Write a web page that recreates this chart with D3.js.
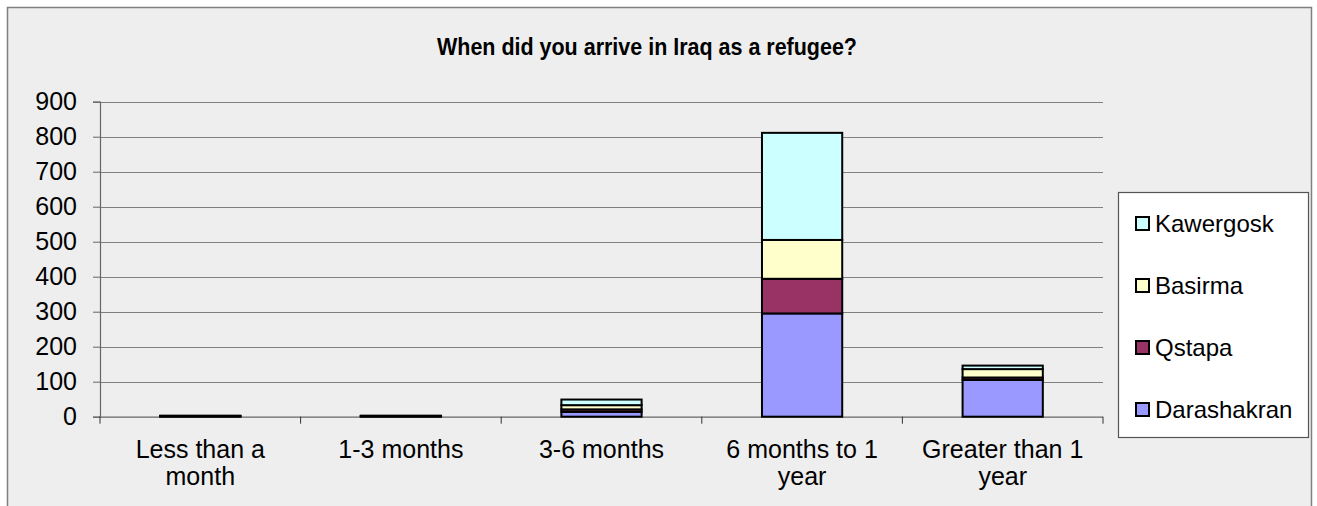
<!DOCTYPE html>
<html><head><meta charset="utf-8">
<script src="https://cdn.jsdelivr.net/npm/d3@7"></script>
<style>
html,body{margin:0;padding:0;background:#fff;}
text{font-family:"Liberation Sans",Arial,sans-serif;fill:#000;}
</style></head>
<body>
<svg id="chart" width="1317" height="506"></svg>
<script>
const title = "When did you arrive in Iraq as a refugee?";
const categories = ["Less than a month","1-3 months","3-6 months","6 months to 1 year","Greater than 1 year"];
const seriesNames = ["Darashakran","Qstapa","Basirma","Kawergosk"];
const darashakran = [1, 1, 14, 295, 105];
const qstapa      = [0, 0, 7, 99, 7];
const basirma     = [1, 1, 12, 111, 24];
const kawergosk   = [1, 1, 16, 306, 10];
const yTicks = [0,100,200,300,400,500,600,700,800,900];
const colors = ["#9999FF","#993366","#FFFFCC","#CCFFFF"];

const seriesValues = [darashakran, qstapa, basirma, kawergosk];
const rows = categories.map((c,i)=>{
  const r = {cat:c};
  seriesNames.forEach((s,j)=> r[s] = seriesValues[j][i]);
  return r;
});

const svg = d3.select("#chart");
svg.append("rect").attr("x",7.5).attr("y",7.5).attr("width",1304).attr("height",520)
  .attr("fill","#EEEEEE").attr("stroke","#808080").attr("stroke-width",1.5);

const pLeft=100, pRight=1103, pTop=101.7, pBottom=416.7;
const x = d3.scaleBand().domain(categories).range([pLeft,pRight]).paddingInner(0.6).paddingOuter(0.3);
const y = d3.scaleLinear().domain([0,900]).range([pBottom,pTop]);

svg.append("g").selectAll("line").data(yTicks.filter(d=>d>0)).join("line")
  .attr("x1",pLeft).attr("x2",pRight).attr("y1",d=>Math.round(y(d))+0.5).attr("y2",d=>Math.round(y(d))+0.5)
  .attr("stroke","#808080").attr("stroke-width",1.2);

const yAxis = svg.append("g").attr("transform",`translate(${pLeft},0)`)
  .call(d3.axisLeft(y).tickValues(yTicks).tickSize(7).tickPadding(16).tickFormat(d3.format("d")));
yAxis.select(".domain").attr("stroke","#666").attr("stroke-width",1.2);
yAxis.selectAll(".tick line").attr("stroke","#666");
yAxis.selectAll("text").attr("font-size",25).attr("font-family","Liberation Sans, Arial, sans-serif").attr("fill","#000");

svg.append("line").attr("x1",pLeft).attr("x2",pRight).attr("y1",pBottom+0.5).attr("y2",pBottom+0.5)
  .attr("stroke","#666").attr("stroke-width",1.2);
const step = x.step();
const bounds = d3.range(categories.length+1).map(i=> pLeft + i*step);
svg.append("g").selectAll("line").data(bounds).join("line")
  .attr("x1",d=>d).attr("x2",d=>d).attr("y1",pBottom).attr("y2",pBottom+7)
  .attr("stroke","#333").attr("stroke-width",1);

const catG = svg.append("g");
categories.forEach(c=>{
  const cx = x(c)+x.bandwidth()/2;
  const t = catG.append("text").attr("x",cx).attr("y",458)
    .attr("text-anchor","middle").attr("font-size",25);
  const words = c.split(" ");
  let line=[];
  let tspan = t.append("tspan").attr("x",cx).attr("dy",0);
  words.forEach(w=>{
    line.push(w);
    tspan.text(line.join(" "));
    if (tspan.node().getComputedTextLength() > 185 && line.length>1){
      line.pop(); tspan.text(line.join(" "));
      line=[w];
      tspan = t.append("tspan").attr("x",cx).attr("dy",27).text(w);
    }
  });
});

const stack = d3.stack().keys(seriesNames)(rows);
svg.append("g").selectAll("g").data(stack).join("g")
  .attr("fill",(d,i)=>colors[i])
  .selectAll("rect").data(d=>d).join("rect")
  .attr("x",d=>x(d.data.cat)).attr("width",x.bandwidth())
  .attr("y",d=>y(d[1])).attr("height",d=>Math.max(0,y(d[0])-y(d[1])))
  .attr("stroke","#000").attr("stroke-width",2);

svg.append("text").attr("x",647).attr("y",55).attr("text-anchor","middle")
  .attr("font-size",23.5).attr("font-weight","bold")
  .attr("textLength",420).attr("lengthAdjust","spacingAndGlyphs").text(title);

const lg = svg.append("g");
lg.append("rect").attr("x",1118.5).attr("y",192.5).attr("width",190).attr("height",245)
  .attr("fill","#fff").attr("stroke","#555").attr("stroke-width",1.2);
const legOrder = seriesNames.map((s,i)=>({s,i})).reverse();
legOrder.forEach((d,k)=>{
  const cy = 223 + k*62;
  lg.append("rect").attr("x",1136).attr("y",cy-6).attr("width",13).attr("height",13)
    .attr("fill",colors[d.i]).attr("stroke","#000").attr("stroke-width",2);
  lg.append("text").attr("x",1155).attr("y",cy+9).attr("font-size",24).text(d.s);
});
</script>
</body></html>
